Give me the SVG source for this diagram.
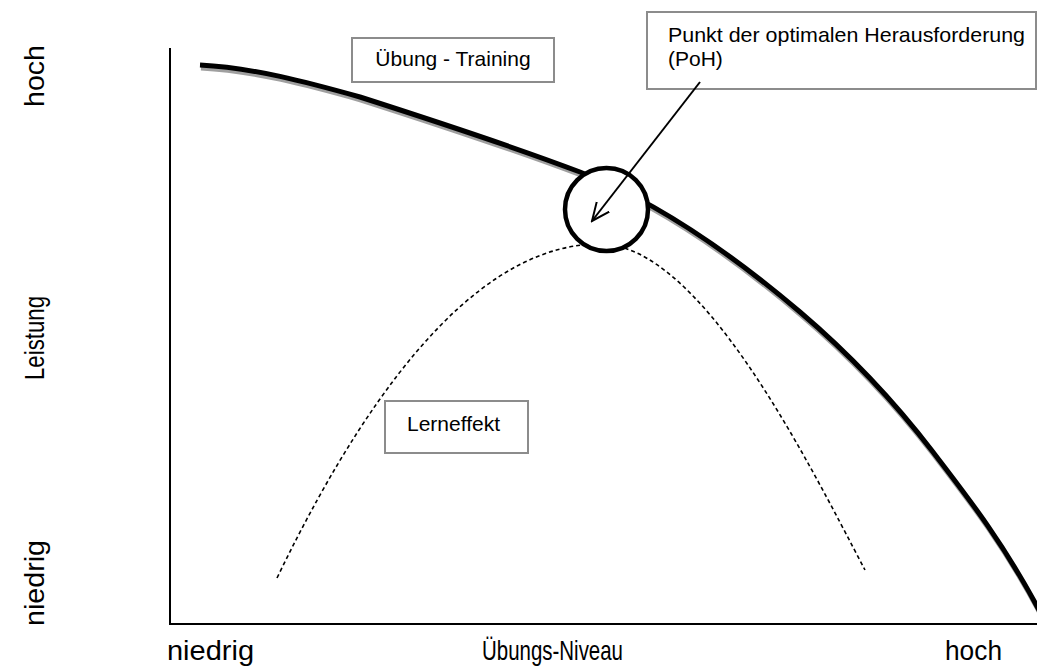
<svg xmlns="http://www.w3.org/2000/svg" width="1037" height="668" viewBox="0 0 1037 668">
<defs>
<style>
.lbl{font-family:"Liberation Sans",Arial,sans-serif;fill:#000}
.ax{font-size:28px}
.bx{font-size:21px}
.box{fill:#fff;stroke:#8c8c8c;stroke-width:2}
.axis{stroke:#000;stroke-width:2;fill:none}
</style>
<marker id="arr" viewBox="0 0 20 20" refX="18" refY="10" markerWidth="20" markerHeight="20" markerUnits="userSpaceOnUse" orient="auto">
<path d="M0,2 L18,10 L0,18" fill="none" stroke="#000" stroke-width="2"/>
</marker>
</defs>
<rect width="1037" height="668" fill="#fff"/>
<g id="axes">
<path class="axis" d="M170,48 V624 H1037"/>
</g>
<g id="labels">
<text class="lbl ax" x="44" y="76" text-anchor="middle" textLength="62" lengthAdjust="spacingAndGlyphs" transform="rotate(-90 44 76)">hoch</text>
<text class="lbl ax" x="44" y="338" text-anchor="middle" textLength="84" lengthAdjust="spacingAndGlyphs" transform="rotate(-90 44 338)">Leistung</text>
<text class="lbl ax" x="44" y="583" text-anchor="middle" textLength="86" lengthAdjust="spacingAndGlyphs" transform="rotate(-90 44 583)">niedrig</text>
<text class="lbl ax" x="167" y="660" textLength="87" lengthAdjust="spacingAndGlyphs">niedrig</text>
<text class="lbl ax" x="482" y="660" textLength="141" lengthAdjust="spacingAndGlyphs">Übungs-Niveau</text>
<text class="lbl ax" x="945" y="660" textLength="57" lengthAdjust="spacingAndGlyphs">hoch</text>
</g>
<g id="connectors">
<path id="lernkurve" d="M277,578 Q438.5,244 600,244 C700,244 805,456 865,570" fill="none" stroke="#000" stroke-width="1.6" stroke-dasharray="4,3"/>
<path d="M200,65 C253.3,67.7 306.7,82.1 360,97 C433.3,120.5 506.7,144.1 580,172 C653.3,199.9 726.7,249.7 800,312 C844.3,349.7 888.7,394.4 933,452 C968.7,498.4 1004.3,544.2 1040,612" fill="none" stroke="#a0a0a0" stroke-width="5" transform="translate(1 3)"/>
<path id="uebungskurve" d="M200,65 C253.3,67.7 306.7,82.1 360,97 C433.3,120.5 506.7,144.1 580,172 C653.3,199.9 726.7,249.7 800,312 C844.3,349.7 888.7,394.4 933,452 C968.7,498.4 1004.3,544.2 1040,612" fill="none" stroke="#000" stroke-width="5"/>
</g>
<g id="poh-circle">
<circle cx="606.5" cy="209.5" r="41.5" fill="#fff" stroke="#000" stroke-width="4.5"/>
</g>
<g id="box-uebung">
<rect class="box" x="352" y="38" width="202" height="44"/>
<text class="lbl bx" x="453" y="66" text-anchor="middle">Übung - Training</text>
</g>
<g id="box-poh">
<rect class="box" x="647" y="12" width="389" height="77"/>
<text class="lbl bx" x="668" y="42" textLength="357" lengthAdjust="spacingAndGlyphs">Punkt der optimalen Herausforderung</text>
<text class="lbl bx" x="668" y="66">(PoH)</text>
</g>
<g id="box-lerneffekt">
<rect class="box" x="385" y="401" width="143" height="52"/>
<text class="lbl bx" x="407" y="431">Lerneffekt</text>
</g>
<g id="arrow">
<line x1="700" y1="82" x2="592" y2="221" stroke="#000" stroke-width="2" marker-end="url(#arr)"/>
</g>
</svg>
